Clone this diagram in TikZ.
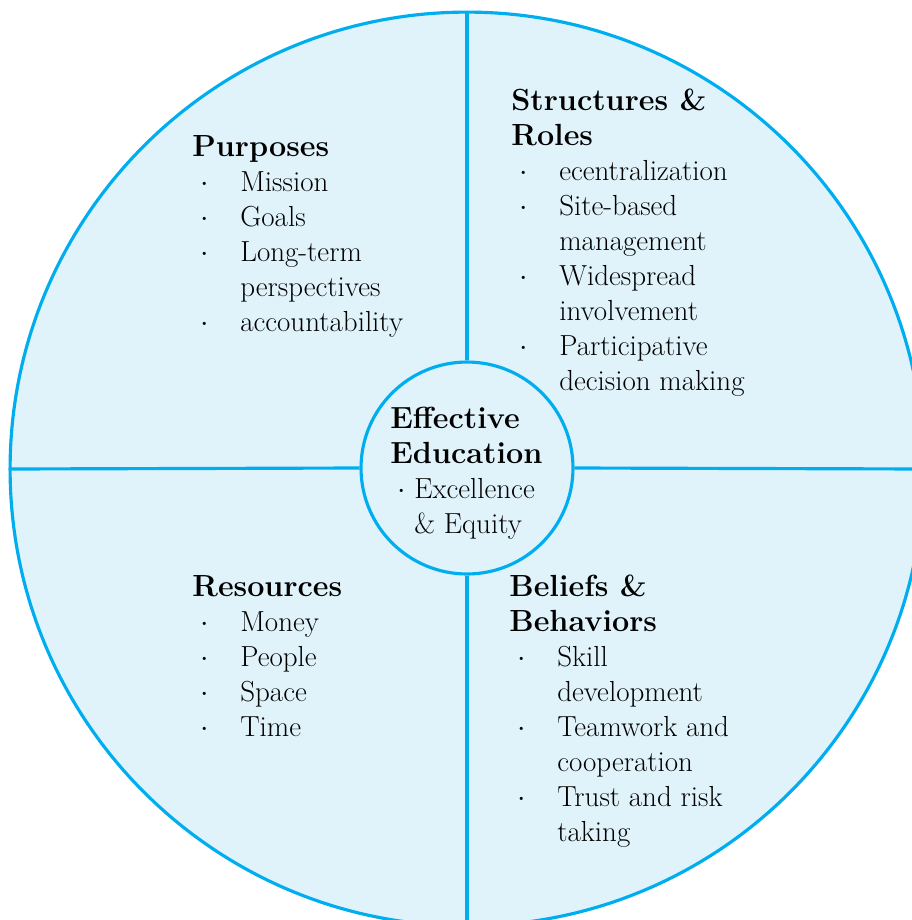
\documentclass[tikz,border=0pt]{standalone}
\usepackage{tikz}
\usetikzlibrary{positioning}
\definecolor{ring}{RGB}{0,174,239}
\definecolor{wash}{RGB}{224,243,251}
\newcommand{\itemdot}{\makebox[0.96cm][l]{\hspace{0.16cm}$\cdot$}}
\newcommand{\itemgap}{\hspace{0.96cm}}
\newcommand{\head}[1]{{\fontsize{17.4}{19.92}\selectfont\bfseries #1}}

\begin{document}
\begin{tikzpicture}[x=0.02cm,y=-0.02cm,
    quad/.style={anchor=base west,align=left,inner sep=0pt,
      font=\fontsize{16.5}{19.92}\selectfont},
    rim/.style={draw=ring,fill=wash,line width=1.8pt,circle,inner sep=0pt}]
  \useasboundingbox (0,0) rectangle (912,920);
  \clip (0,0) rectangle (912,920);

  % outer wheel and hub
  \node[rim,minimum size=18.28cm] (wheel) at (467,469) {};
  \node[rim,minimum size=4.24cm] (hub) at (467,468) {};

  % spokes
  \draw[ring,line width=1.8pt] (wheel.north) -- (hub.north);
  \draw[ring,line width=1.8pt] (wheel.south) -- (hub.south);
  \draw[ring,line width=1.8pt] (wheel.west) -- (hub.west);
  \draw[ring,line width=1.8pt] (wheel.east) -- (hub.east);

  % text blocks (anchored at the baseline of the last line)
  \node[quad] (core) at (390,533)
    {\head{Effective}\\
     \head{Education}\\
     \makebox[0.48cm][l]{\hspace{0.14cm}$\cdot$}Excellence\\
     \hspace{0.48cm}\& Equity};
  \node[quad] (purp) at (192,331)
    {\head{Purposes}\\
     \itemdot Mission\\
     \itemdot Goals\\
     \itemdot Long-term\\
     \itemgap perspectives\\
     \itemdot accountability};
  \node[quad] (roles) at (511,390)
    {\head{Structures \&}\\
     \head{Roles}\\
     \itemdot ecentralization\\
     \itemdot Site-based\\
     \itemgap management\\
     \itemdot Widespread\\
     \itemgap involvement\\
     \itemdot Participative\\
     \itemgap decision making};
  \node[quad] (res) at (192,736)
    {\head{Resources}\\
     \itemdot Money\\
     \itemdot People\\
     \itemdot Space\\
     \itemdot Time};
  \node[quad] (belf) at (509,841)
    {\head{Beliefs \&}\\
     \head{Behaviors}\\
     \itemdot Skill\\
     \itemgap development\\
     \itemdot Teamwork and\\
     \itemgap cooperation\\
     \itemdot Trust and risk\\
     \itemgap taking};
\end{tikzpicture}
\end{document}
